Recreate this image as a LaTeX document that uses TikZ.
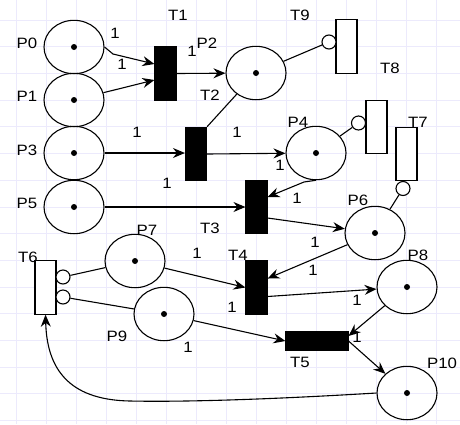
\documentclass[tikz,border=0pt]{standalone}
\usepackage{fontspec}
\setmainfont{Liberation Sans}[FakeStretch=1.12]
\usetikzlibrary{arrows.meta,shapes.geometric,calc}
\definecolor{gridline}{RGB}{236,234,252}

\begin{document}
\begin{tikzpicture}[x=1pt,y=-1pt,line width=1.1pt,font=\fontsize{15}{17}\selectfont,
    place/.style={draw,ellipse,minimum width=60pt,minimum height=53.4pt,inner sep=0pt},
    trans/.style={draw,fill=black,minimum width=21pt,minimum height=53.4pt,inner sep=0pt},
    opentrans/.style={trans,fill=white},
    inh/.style={draw,circle,fill=white,minimum size=14pt,inner sep=0pt},
    arc/.style={-{Stealth[length=12pt,width=10pt,inset=4pt]}},
    lbl/.style={inner sep=0pt}]
  \useasboundingbox (0,0) rectangle (460,424);
  \foreach \gx in {16,46,...,436}
    \draw[gridline,line width=0.7pt] (\gx,0) -- (\gx,424);
  \foreach \k in {0,...,15}
    \draw[gridline,line width=0.7pt] (0,{20+26.7*\k}) -- (460,{20+26.7*\k});

  \foreach \n/\px/\py in {P0/74/47, P1/74/100, P3/74/153, P5/74/207, P2/256/73, P4/316/153,
      P6/375/233, P7/135/261, P8/407/287, P9/164/314, P10/407/393}
    {\node[place] (\n) at (\px,\py) {}; \fill (\px,\py) circle (3pt);}
  \foreach \n/\px/\py in {P0/27/43, P1/27/96, P3/27/150, P5/27/203, P2/207/43, P4/298/122,
      P6/358/200, P7/147/230, P8/418/255, P9/117/336, P10/442/363}
    \node[lbl] (l\n) at (\px,\py) {\n};

  \node[trans] (T1) at (165.5,73.5) {};
  \node[trans] (T2) at (196,154) {};
  \node[trans] (T3) at (256.5,207) {};
  \node[trans] (T4) at (256.5,287.5) {};
  \node[trans,minimum width=62pt,minimum height=18pt] (T5) at (317,341) {};
  \node[opentrans] (T6) at (45.5,287.5) {};
  \node[opentrans] (T7) at (406.5,154) {};
  \node[opentrans] (T8) at (376.5,127) {};
  \node[opentrans] (T9) at (346.5,46.5) {};
  \foreach \n/\px/\py in {T1/178/15, T2/210/95, T3/210/228, T4/238/255, T5/300/362,
      T6/28/257, T7/418/122, T8/390/68, T9/300/15}
    \node[lbl] (l\n) at (\px,\py) {\n};

  \node[inh] (i9) at (329,42) {};
  \node[inh] (i8) at (358.5,123) {};
  \node[inh] (i7) at (403,188.5) {};
  \node[inh] (i6a) at (63,277) {};
  \node[inh] (i6b) at (63,297) {};

  \coordinate (k0) at (113,54);
  \coordinate (k4) at (304,182);
  \coordinate (k10) at (130,401);
  \draw[arc] (P0.east) -- (k0) -- ($(T1.west)+(0,-9.5)$);
  \draw[arc] (P1) -- ($(T1.west)+(0,6.5)$);
  \draw[arc] (T1.east) -- (P2);
  \draw (T2.north east) -- (P2);
  \draw[arc] (P3.east) -- (P3.east -| T2.west);
  \draw[arc] (T2.east) -- (P4);
  \draw[arc] (P5.east) -- (P5.east -| T3.west);
  \draw[arc] (P4.south) -- (k4) -- ($(T3.east)+(0,-10)$);
  \draw[arc] ($(T3.east)+(0,11)$) -- (P6);
  \draw[arc] (P6) -- ($(T4.east)+(0,-9)$);
  \draw[arc] ($(T4.east)+(0,9)$) -- (P8);
  \draw[arc] (P7) -- (T4.west);
  \draw[arc] (P9) -- (T5.west);
  \draw[arc] (P8) -- ($(T5.east)+(0,-5)$);
  \draw[arc] (T5.east) -- (P10);
  \draw[arc] (P10.west) .. controls (260,400) and (180,402) .. (k10)
    .. controls (75,400) and (47,375) .. (T6.south);
  \draw (P2) -- (i9);
  \draw (P4) -- (i8);
  \draw (P6) -- (i7);
  \draw (P7) -- (i6a);
  \draw (P9) -- (i6b);

  \foreach \wx/\wy [count=\i] in {115/33, 122/64, 192/51, 137/132, 167/183, 237/132, 280/165,
      297/198, 315/242, 313/270, 197/253, 232/307, 357/300, 188/347, 357/337}
    \node[lbl] (w\i) at (\wx,\wy) {1};
\end{tikzpicture}
\end{document}
